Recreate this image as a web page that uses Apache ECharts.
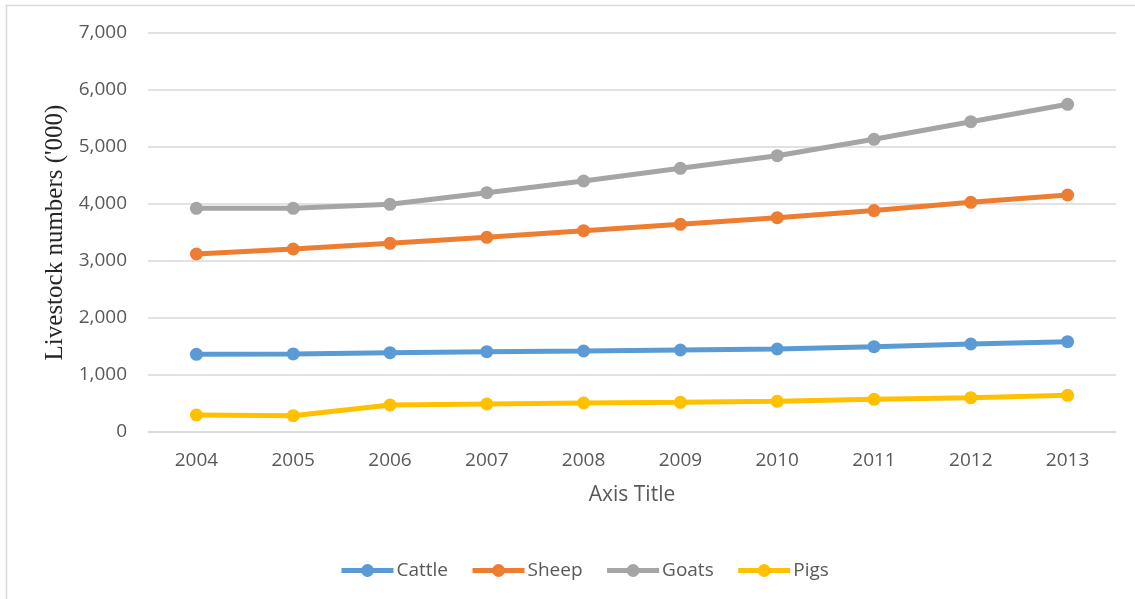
<!DOCTYPE html>
<html>
<head>
<meta charset="utf-8">
<script src="https://cdn.jsdelivr.net/npm/echarts@6/dist/echarts.min.js"></script>
<style>
  html, body { margin: 0; padding: 0; background: #ffffff; }
  #chart { width: 1135px; height: 599px; }
</style>
</head>
<body>
<div id="chart"></div>
<script>
// Livestock numbers ('000) by year
const years = ['2004', '2005', '2006', '2007', '2008', '2009', '2010', '2011', '2012', '2013'];
const cattle = [1363, 1370, 1392, 1409, 1421, 1439, 1456, 1497, 1544, 1585];
const sheep  = [3123, 3211, 3310, 3415, 3532, 3643, 3760, 3885, 4029, 4158];
const goats  = [3924, 3924, 3994, 4199, 4404, 4626, 4848, 5135, 5444, 5749];
const pigs   = [298, 287, 474, 491, 509, 520, 538, 573, 602, 643];

const seriesNames = ['Cattle', 'Sheep', 'Goats', 'Pigs'];
const seriesColors = ['#5B9BD5', '#ED7D31', '#A5A5A5', '#FFC000'];
const seriesData = [cattle, sheep, goats, pigs];

const textColor = '#595959';
const gridColor = '#D9D9D9';
const uiFont = '"Open Sans", "Liberation Sans", sans-serif';

const chart = echarts.init(document.getElementById('chart'), null, { renderer: 'canvas' });

chart.setOption({
  backgroundColor: '#ffffff',
  animation: false,
  graphic: [{
    type: 'rect',
    shape: { x: 6.5, y: 5.5, width: 1140, height: 610 },
    style: { fill: 'none', stroke: '#D9D9D9', lineWidth: 1.5 },
    silent: true,
    z: -1
  }],
  grid: { left: 148, right: 19, top: 33, bottom: 167 },
  legend: {
    data: seriesNames,
    left: 334,
    top: 556,
    itemWidth: 52,
    itemHeight: 16,
    itemGap: 22,
    lineStyle: { width: 5 },
    textStyle: { color: textColor, fontSize: 19, fontFamily: uiFont, padding: [0, 0, 0, -2] }
  },
  xAxis: {
    type: 'category',
    data: years,
    boundaryGap: true,
    name: 'Axis Title',
    nameLocation: 'middle',
    nameGap: 53,
    nameTextStyle: { color: textColor, fontSize: 21, fontFamily: uiFont },
    axisLine: { show: true, lineStyle: { color: gridColor, width: 1.5 } },
    axisTick: { show: false },
    axisLabel: { color: textColor, fontSize: 19, fontFamily: uiFont, margin: 19 }
  },
  yAxis: {
    type: 'value',
    min: 0,
    max: 7000,
    interval: 1000,
    name: "Livestock numbers ('000)",
    nameLocation: 'middle',
    nameGap: 78,
    nameTextStyle: { color: '#262626', fontSize: 25, fontFamily: '"Liberation Serif", "DejaVu Serif", serif' },
    axisLine: { show: false },
    axisTick: { show: false },
    splitLine: { lineStyle: { color: gridColor, width: 1.5 } },
    axisLabel: {
      color: textColor, fontSize: 19, fontFamily: uiFont, margin: 21,
      formatter: v => v.toLocaleString('en-US')
    }
  },
  series: seriesNames.map((name, i) => ({
    name: name,
    type: 'line',
    data: seriesData[i],
    symbol: 'circle',
    symbolSize: 13,
    lineStyle: { width: 5, color: seriesColors[i] },
    itemStyle: { color: seriesColors[i] },
    emphasis: { disabled: true }
  }))
});
</script>
</body>
</html>
